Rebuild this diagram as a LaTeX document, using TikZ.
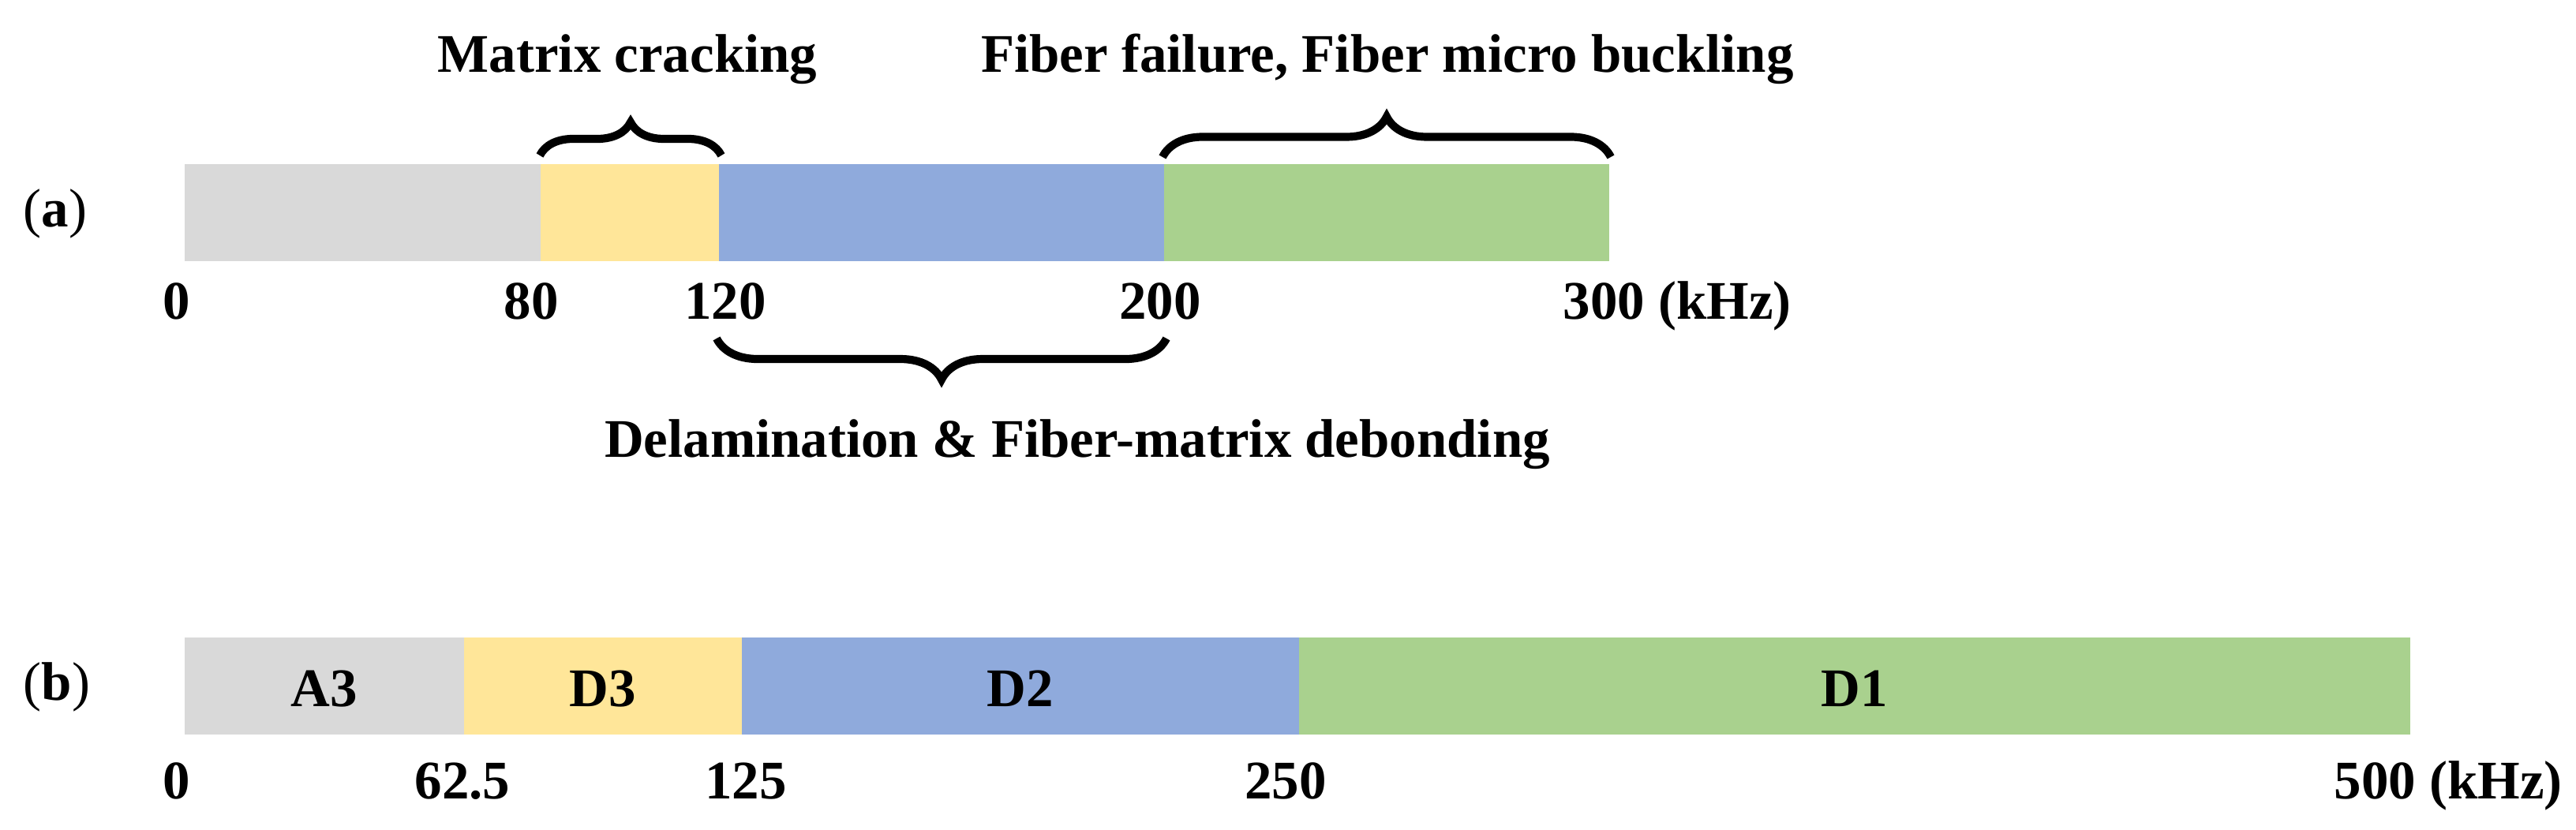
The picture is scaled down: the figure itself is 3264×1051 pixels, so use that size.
\documentclass[tikz,border=0pt]{standalone}
\usepackage{fontspec}
\setmainfont{Liberation Serif}
\usepackage{xcolor}
\usetikzlibrary{decorations.pathreplacing,positioning}
\definecolor{bandgray}{HTML}{D9D9D9}
\definecolor{bandyellow}{HTML}{FFE699}
\definecolor{bandblue}{HTML}{8FAADC}
\definecolor{bandgreen}{HTML}{A9D18E}
\tikzset{
	lbl/.style={font=\bfseries\fontsize{19.6pt}{23pt}\selectfont, inner sep=0pt, anchor=base},
	tag/.style={lbl, font=\mdseries\fontsize{19.6pt}{23pt}\selectfont},
	brc/.style={draw, line width=2.9pt, decorate,
		decoration={brace, amplitude=#1, aspect=0.5}}
}

\begin{document}
\begin{tikzpicture}[x=0.01cm, y=-0.01cm]
	\useasboundingbox (0,0) rectangle (3264,1051);
	% (a) bands, ticks and braces
	\foreach \l/\r/\c in {234/685/bandgray, 685/911/bandyellow, 911/1475/bandblue, 1475/2039/bandgreen}
		\fill[\c] (\l,208) rectangle (\r,331);
	\node[tag] (tagA) at (70,287) {(\textbf{a})};
	\foreach \x/\t [count=\i] in {224/0, 673/80, 919/120, 1470/200}
		\node[lbl] (ta\i) at (\x,404) {\t};
	\node[lbl, anchor=base west] (ta5) at (1980,404) {300 (kHz)};
	\coordinate (mcL) at (684,197);
	\coordinate (mcR) at (914,197);
	\coordinate (ffL) at (1473,199);
	\coordinate (ffR) at (2041,199);
	\coordinate (dlL) at (908,429);
	\coordinate (dlR) at (1478,429);
	\draw[brc=0.42cm] (mcL) -- (mcR);
	\draw[brc=0.51cm] (ffL) -- (ffR);
	\draw[brc=0.52cm] (dlR) -- (dlL);
	\node[lbl] (mc) at (795,91) {Matrix cracking};
	\node[lbl] (ff) at (1758,91) {Fiber failure, Fiber micro buckling};
	\node[lbl] (dl) at (1365,579) {Delamination \& Fiber-matrix debonding};
	% (b) bands and ticks
	\foreach \l/\r/\c/\t in {234/588/bandgray/A3, 588/940/bandyellow/D3, 940/1646/bandblue/D2, 1646/3054/bandgreen/D1}{
		\fill[\c] (\l,808) rectangle (\r,931);
		\node[lbl] (band\t) at ({(\l+\r)/2},895) {\t};
	}
	\node[tag] (tagB) at (72,887) {(\textbf{b})};
	\foreach \x/\t [count=\i] in {224/0, 586/62.5, 945/125, 1629/250}
		\node[lbl] (tb\i) at (\x,1012) {\t};
	\node[lbl, anchor=base west] (tb5) at (2957,1012) {500 (kHz)};
\end{tikzpicture}
\end{document}
